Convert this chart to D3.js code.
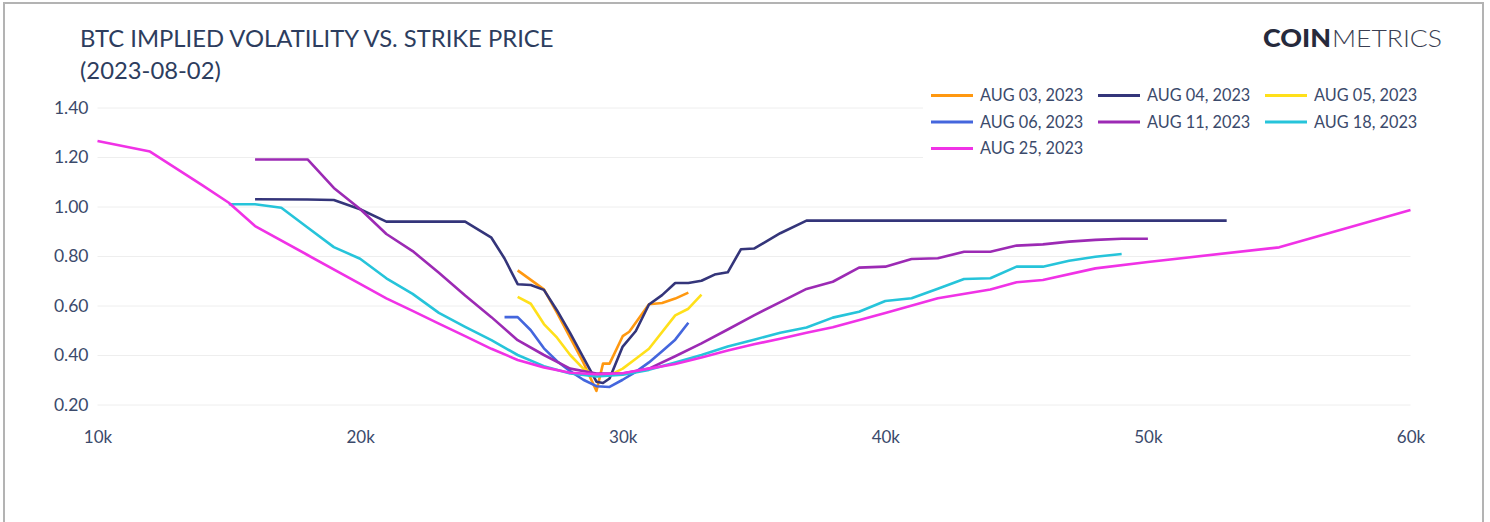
<!DOCTYPE html>
<html>
<head>
<meta charset="utf-8">
<script src="https://cdn.jsdelivr.net/npm/d3@7"></script>
<style>
  html, body { margin: 0; padding: 0; background: #ffffff; }
  svg { display: block; font-family: Lato, "Open Sans", sans-serif; }
</style>
</head>
<body>
<svg id="chart" width="1490" height="522"></svg>
<script>
// Implied volatility by strike (USD) for each BTC option expiry
const aug03 = [[26000,0.742],[27000,0.665],[27500,0.57],[28000,0.47],[28500,0.37],[29000,0.255],[29250,0.365],[29500,0.365],[30000,0.476],[30250,0.494],[31000,0.605],[31500,0.61],[32000,0.628],[32500,0.652]];
const aug04 = [[16000,1.029],[18000,1.028],[19000,1.026],[20000,0.989],[21000,0.939],[22000,0.939],[23000,0.939],[24000,0.939],[25000,0.874],[25500,0.79],[26000,0.686],[26500,0.683],[27000,0.663],[27500,0.58],[28000,0.488],[28500,0.39],[29000,0.292],[29250,0.287],[29500,0.305],[30000,0.434],[30500,0.497],[31000,0.604],[31500,0.642],[32000,0.691],[32500,0.691],[33000,0.70],[33500,0.725],[34000,0.734],[34500,0.827],[35000,0.83],[36000,0.892],[37000,0.943],[38000,0.943],[40000,0.943],[45000,0.943],[50000,0.943],[53000,0.943]];
const aug05 = [[26000,0.635],[26500,0.607],[27000,0.525],[27500,0.47],[28000,0.40],[28500,0.345],[29000,0.315],[29500,0.318],[30000,0.345],[30500,0.385],[31000,0.425],[32000,0.56],[32500,0.587],[33000,0.644]];
const aug06 = [[25500,0.553],[26000,0.553],[26500,0.50],[27000,0.427],[27500,0.375],[28000,0.335],[28500,0.30],[29000,0.274],[29500,0.271],[30000,0.30],[30500,0.332],[31000,0.37],[31500,0.415],[32000,0.462],[32500,0.53]];
const aug11 = [[16000,1.19],[18000,1.19],[19000,1.075],[20000,0.99],[21000,0.889],[22000,0.82],[23000,0.732],[24000,0.64],[25000,0.553],[26000,0.46],[27000,0.40],[28000,0.345],[29000,0.325],[30000,0.325],[31000,0.345],[32000,0.395],[33000,0.447],[34000,0.503],[35000,0.56],[36000,0.614],[37000,0.667],[38000,0.696],[39000,0.753],[40000,0.757],[41000,0.788],[42000,0.791],[43000,0.817],[44000,0.817],[45000,0.842],[46000,0.847],[47000,0.858],[48000,0.865],[49000,0.87],[50000,0.87]];
const aug18 = [[15000,1.009],[16000,1.009],[17000,0.995],[18000,0.915],[19000,0.836],[20000,0.789],[21000,0.71],[22000,0.647],[23000,0.57],[24000,0.514],[25000,0.46],[26000,0.40],[27000,0.355],[28000,0.325],[29000,0.313],[30000,0.32],[31000,0.34],[32000,0.37],[33000,0.40],[34000,0.434],[35000,0.462],[36000,0.49],[37000,0.511],[38000,0.551],[39000,0.575],[40000,0.618],[41000,0.629],[42000,0.668],[43000,0.707],[44000,0.71],[45000,0.757],[46000,0.757],[47000,0.781],[48000,0.797],[49000,0.808]];
const aug25 = [[10000,1.265],[12000,1.222],[14000,1.085],[15000,1.015],[16000,0.921],[18000,0.804],[20000,0.687],[21000,0.629],[22000,0.578],[23000,0.527],[24000,0.476],[25000,0.425],[26000,0.38],[27000,0.35],[28000,0.328],[29000,0.322],[30000,0.326],[31000,0.345],[32000,0.364],[33000,0.39],[34000,0.418],[35000,0.443],[36000,0.466],[37000,0.49],[38000,0.512],[40000,0.57],[42000,0.629],[44000,0.665],[45000,0.694],[46000,0.703],[48000,0.75],[50000,0.776],[55000,0.835],[60000,0.986]];

const seriesNames = ["AUG 03, 2023","AUG 04, 2023","AUG 05, 2023","AUG 06, 2023","AUG 11, 2023","AUG 18, 2023","AUG 25, 2023"];
const seriesData = [aug03, aug04, aug05, aug06, aug11, aug18, aug25];
const seriesColors = ["#ff9810","#34357a","#ffe01a","#4466dd","#9c2ab4","#26c4da","#f032e6"];

const xTicks = [10000,20000,30000,40000,50000,60000];
const xTickLabels = ["10k","20k","30k","40k","50k","60k"];
const yTicks = [0.2,0.4,0.6,0.8,1.0,1.2,1.4];

const svg = d3.select("#chart");
const textColor = "#3b4a6b";

// outer frame
svg.append("rect")
  .attr("x", 4).attr("y", 3).attr("width", 1479).attr("height", 540)
  .attr("fill", "none").attr("stroke", "#b3b3b3").attr("stroke-width", 2);

const x = d3.scaleLinear().domain([10000, 60000]).range([97.5, 1410.5]);
const y = d3.scaleLinear().domain([0.2, 1.4]).range([404.5, 107.5]);

// horizontal gridlines + y labels
const yAxis = d3.axisLeft(y).tickValues(yTicks).tickFormat(d3.format(".2f"))
  .tickSize(-(x.range()[1] - x.range()[0])).tickPadding(9);
const gy = svg.append("g").attr("transform", `translate(${x.range()[0]},0)`).call(yAxis);
gy.select(".domain").remove();
gy.selectAll(".tick line").attr("stroke", "#eeeeee").attr("stroke-width", 1);
gy.selectAll(".tick text").attr("fill", textColor).attr("font-size", 17.5)
  .attr("font-family", "Lato, sans-serif");

// x labels
const xAxis = d3.axisBottom(x).tickValues(xTicks)
  .tickFormat((d, i) => xTickLabels[i]).tickSize(0).tickPadding(0);
const gx = svg.append("g").attr("transform", "translate(0,431)").call(xAxis);
gx.select(".domain").remove();
gx.selectAll(".tick text").attr("fill", textColor).attr("font-size", 17)
  .attr("font-family", "Lato, sans-serif");

// series lines
const line = d3.line().x(d => x(d[0])).y(d => y(d[1]));
svg.append("g").selectAll("path")
  .data(seriesData)
  .join("path")
  .attr("d", line)
  .attr("fill", "none")
  .attr("stroke", (d, i) => seriesColors[i])
  .attr("stroke-width", 2.6)
  .attr("stroke-linejoin", "round");

// title
const title = svg.append("text").attr("x", 80).attr("fill", "#2d3d5e")
  .attr("font-size", 23.8).attr("font-family", "Lato, sans-serif");
title.append("tspan").attr("x", 80).attr("y", 47).text("BTC IMPLIED VOLATILITY VS. STRIKE PRICE");
title.append("tspan").attr("x", 80).attr("y", 79).text("(2023-08-02)");

// wordmark
svg.append("text").attr("x", 1263).attr("y", 47).attr("fill", "#262a3c")
  .attr("font-size", 24).attr("font-weight", 900).attr("font-family", "Lato, sans-serif")
  .attr("textLength", 68).attr("lengthAdjust", "spacingAndGlyphs").text("COIN");
svg.append("text").attr("x", 1332).attr("y", 47).attr("fill", "#3a3e52")
  .attr("font-size", 24).attr("font-weight", 300).attr("font-family", "Lato, sans-serif")
  .attr("textLength", 110).attr("lengthAdjust", "spacingAndGlyphs").text("METRICS");

// legend
const legend = svg.append("g");
legend.append("rect").attr("x", 923).attr("y", 82).attr("width", 505).attr("height", 80).attr("fill", "#ffffff");
const colX = [931, 1098, 1265];
const rowY = [95.5, 122, 148.5];
seriesNames.forEach((name, i) => {
  const cx = colX[i % 3], cy = rowY[Math.floor(i / 3)];
  legend.append("line").attr("x1", cx).attr("x2", cx + 42).attr("y1", cy).attr("y2", cy)
    .attr("stroke", seriesColors[i]).attr("stroke-width", 3);
  legend.append("text").attr("x", cx + 49).attr("y", cy).attr("dy", "0.35em")
    .attr("fill", textColor).attr("font-size", 16.3).attr("font-family", "Lato, sans-serif")
    .text(name);
});
</script>
</body>
</html>
